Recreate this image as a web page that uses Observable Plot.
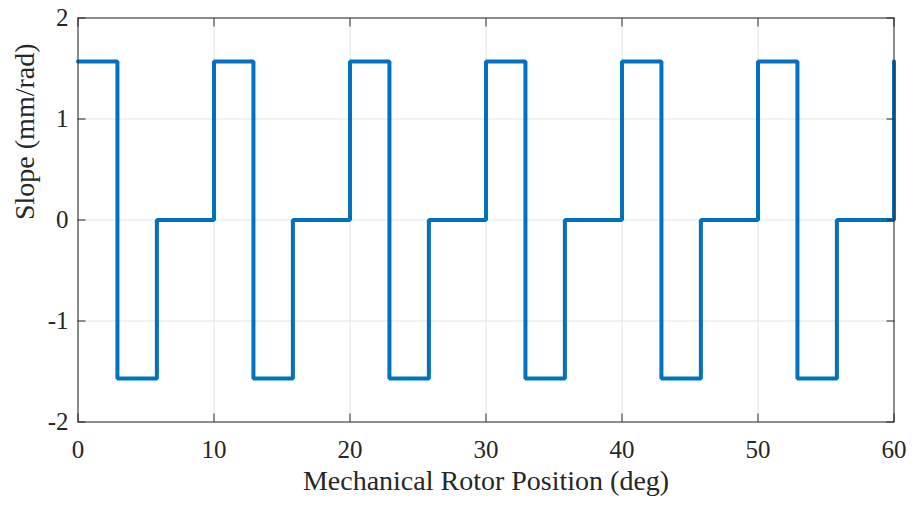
<!DOCTYPE html>
<html>
<head>
<meta charset="utf-8">
<script src="https://cdn.jsdelivr.net/npm/d3@7"></script>
<script src="https://cdn.jsdelivr.net/npm/@observablehq/plot@0.6"></script>
<style>
  html, body { margin: 0; padding: 0; background: #fff; }
</style>
</head>
<body>
<div id="chart"></div>
<script>
// Step breakpoints (deg) and the slope value that starts at each breakpoint
const positions = [0, 2.9, 5.8, 10, 12.9, 15.8, 20, 22.9, 25.8, 30, 32.9, 35.8, 40, 42.9, 45.8, 50, 52.9, 55.8, 60];
const slopes    = [1.57, -1.57, 0, 1.57, -1.57, 0, 1.57, -1.57, 0, 1.57, -1.57, 0, 1.57, -1.57, 0, 1.57, -1.57, 0, 1.57];
const xTicks = [0, 10, 20, 30, 40, 50, 60];
const yTicks = [-2, -1, 0, 1, 2];
const xLabel = "Mechanical Rotor Position (deg)";
const yLabel = "Slope (mm/rad)";

const data = positions.map((p, i) => ({x: p, y: slopes[i]}));

const chart = Plot.plot({
  width: 914,
  height: 506,
  marginLeft: 77.5,
  marginRight: 20.5,
  marginTop: 17.5,
  marginBottom: 84.5,
  style: {fontFamily: "'Liberation Serif', 'Times New Roman', serif", fontSize: "25px", color: "#262626", background: "#fff"},
  x: {domain: [0, 60]},
  y: {domain: [-2, 2]},
  marks: [
    Plot.gridX(xTicks, {stroke: "#e3e3e3", strokeOpacity: 1}),
    Plot.gridY(yTicks, {stroke: "#e3e3e3", strokeOpacity: 1}),
    Plot.line(data, {x: "x", y: "y", curve: "step-after", stroke: "#0072BD", strokeWidth: 4, strokeLinejoin: "miter"}),
    Plot.frame({stroke: "#262626", strokeWidth: 1}),
    Plot.axisX(xTicks, {anchor: "bottom", tickSize: -8, tickPadding: 26, fontSize: 25, label: null, tickFormat: d => String(d), fill: "#262626", stroke: "#262626"}),
    Plot.axisX(xTicks, {anchor: "top", tickSize: -8, label: null, tickFormat: () => "", stroke: "#262626"}),
    Plot.axisY(yTicks, {anchor: "left", tickSize: -8, tickPadding: 17.5, fontSize: 25, label: null, tickFormat: d => String(d), fill: "#262626", stroke: "#262626"}),
    Plot.axisY(yTicks, {anchor: "right", tickSize: -8, label: null, tickFormat: () => "", stroke: "#262626"}),
    Plot.text([xLabel], {text: d => d, frameAnchor: "bottom", lineAnchor: "bottom", dy: 68, fontSize: 28, fill: "#262626"}),
    Plot.text([yLabel], {text: d => d, frameAnchor: "left", rotate: -90, lineAnchor: "bottom", dx: -44.5, fontSize: 28, fill: "#262626"})
  ]
});
document.getElementById("chart").appendChild(chart);
</script>
</body>
</html>
